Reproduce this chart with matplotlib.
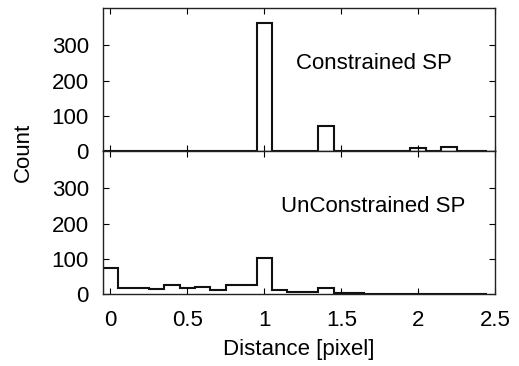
import numpy as np
import matplotlib
matplotlib.use('Agg')
import matplotlib.pyplot as plt

plt.rcParams['font.family'] = ['Liberation Sans', 'DejaVu Sans']

# bin centres (pixel distance), width 0.1
centros = [0.0, 0.1, 0.2, 0.3, 0.4, 0.5, 0.6, 0.7, 0.8, 0.9, 1.0, 1.1, 1.2,
           1.3, 1.4, 1.5, 1.6, 1.7, 1.8, 1.9, 2.0, 2.1, 2.2, 2.3, 2.4]

# counts, constrained SP
cont_const = [0, 0, 0, 0, 0, 0, 0, 0, 0, 0, 365, 0, 0,
              0, 71, 0, 0, 0, 0, 0, 10, 0, 12, 0, 0]

# counts, unconstrained SP
cont_unconst = [75, 18, 17, 16, 27, 18, 21, 12, 25, 25, 103, 13, 5,
                6, 17, 4, 3, 1, 1, 1, 2, 2, 2, 0, 0]

LARG = 0.1
bordas = np.append(np.array(centros) - LARG / 2, centros[-1] + LARG / 2)

fig, (ax1, ax2) = plt.subplots(2, 1, sharex=True, figsize=(5.19, 3.66), dpi=100)
fig.subplots_adjust(left=0.198, right=0.954, top=0.977, bottom=0.196, hspace=0)

for ax, cont, rotulo in [(ax1, cont_const, 'Constrained SP'),
                         (ax2, cont_unconst, 'UnConstrained SP')]:
    ax.stairs(cont, bordas, color='#111111', linewidth=1.5, baseline=0)
    ax.set_ylim(0, 405)
    ax.set_yticks([0, 100, 200, 300])
    ax.text(1.71, 248, rotulo, ha='center', va='center', fontsize=16)
    ax.tick_params(direction='in', top=True, right=True, labelsize=16, length=4, width=0.8)
    ax.tick_params(axis='y', pad=10)
    ax.tick_params(axis='x', pad=11)
    for s in ax.spines.values():
        s.set_linewidth(1.0)
        s.set_color('#222222')

ax2.set_xlim(-0.05, 2.5)
ax2.set_xticks([0, 0.5, 1, 1.5, 2, 2.5])
ax2.set_xticklabels(['0', '0.5', '1', '1.5', '2', '2.5'])
ax2.set_xlabel('Distance [pixel]', fontsize=16, labelpad=6)
fig.text(0.045, 0.585, 'Count', rotation=90, ha='center', va='center', fontsize=16)

plt.savefig('out.png', dpi=100)
